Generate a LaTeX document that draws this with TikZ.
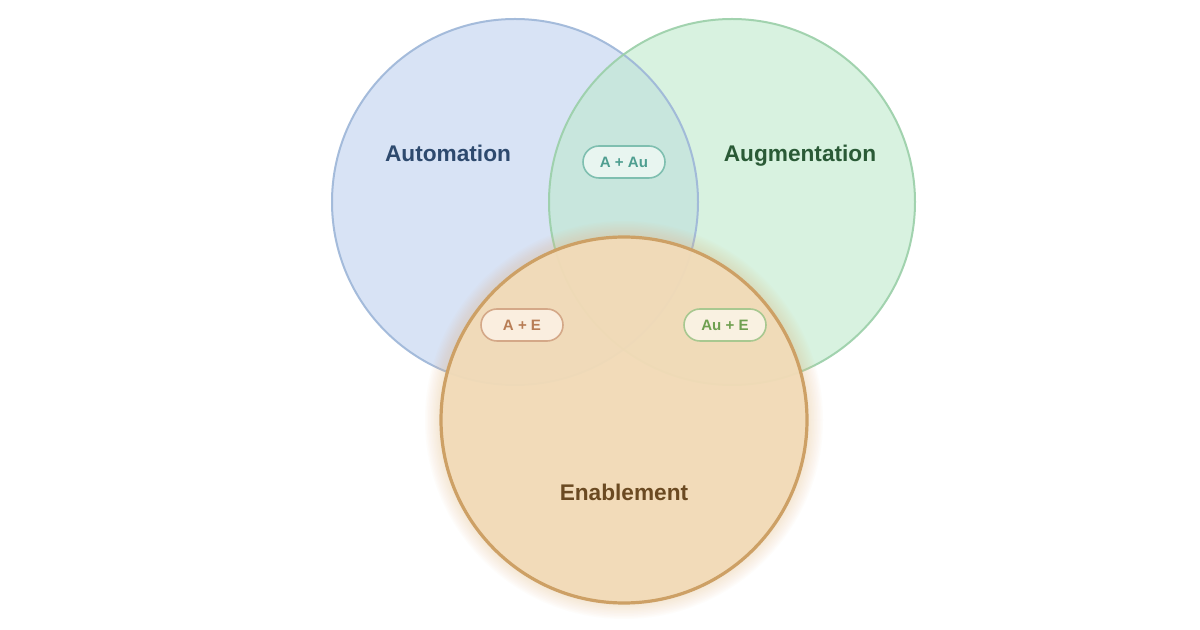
\documentclass[tikz,border=0pt]{standalone}
\usepackage{fontspec}
\setmainfont{Liberation Sans}
\usepackage{tikz}
\usetikzlibrary{positioning}

\definecolor{autofill}{HTML}{D8E3F5}
\definecolor{autoline}{HTML}{9DB6D8}
\definecolor{autotext}{HTML}{2E4A6E}
\definecolor{augfill}{HTML}{D8F2E0}
\definecolor{augline}{HTML}{9ACFA8}
\definecolor{augtext}{HTML}{2A5A36}
\definecolor{bothfill}{HTML}{C8E6DD}
\definecolor{enabfill}{HTML}{F2DBB8}
\definecolor{enabline}{HTML}{CDA065}
\definecolor{enabtext}{HTML}{6B4A22}
\definecolor{glow}{HTML}{EFB77A}
\definecolor{aaline}{HTML}{7FBFB0}
\definecolor{aafill}{HTML}{E8F5F0}
\definecolor{aatext}{HTML}{4E9E90}
\definecolor{aeline}{HTML}{D4A888}
\definecolor{aefill}{HTML}{FAEEDF}
\definecolor{aetext}{HTML}{B87D55}
\definecolor{geline}{HTML}{A8C890}
\definecolor{gefill}{HTML}{F9F1E1}
\definecolor{getext}{HTML}{6FA050}

\begin{document}
\begin{tikzpicture}[
    x=0.75pt,y=-0.75pt,
    setlabel/.style={font=\bfseries\fontsize{17}{20}\selectfont,inner sep=0pt,anchor=base},
    pill/.style={rectangle,rounded corners=12pt,line width=1.2pt,minimum width=61.5pt,minimum height=24pt,inner sep=0pt,font=\bfseries\fontsize{11.3}{13}\selectfont}
]
\useasboundingbox[fill=white] (0,0) rectangle (1200,630);

% the three sets
\coordinate (cauto) at (515,202);
\coordinate (caug) at (732,202);
\coordinate (cenab) at (624,420);

\fill[autofill] (cauto) circle (183);
\fill[augfill] (caug) circle (183);
\begin{scope}
  \clip (cauto) circle (183);
  \fill[bothfill] (caug) circle (183);
\end{scope}
\draw[autoline,line width=1.5pt,opacity=0.9] (cauto) circle (183);
\draw[augline,line width=1.5pt,opacity=0.9] (caug) circle (183);

% soft glow round the enablement set
\foreach \g in {1,...,10}
  \fill[glow,opacity=0.03] (cenab) circle (184+\g*1.5);

\fill[enabfill,fill opacity=0.95] (cenab) circle (183);
\draw[enabline,line width=2.4pt] (cenab) circle (183);

% set names
\node[setlabel,text=autotext] (automation) at (448,162) {Automation};
\node[setlabel,text=augtext] (augmentation) at (800,162) {Augmentation};
\node[setlabel,text=enabtext] (enablement) at (624,501) {Enablement};

% overlaps
\node[pill,draw=aaline,fill=aafill,text=aatext] (autoaug) at (624,162) {A + Au};
\node[pill,draw=aeline,fill=aefill,text=aetext] (autoenab) at (522,325) {A + E};
\node[pill,draw=geline,fill=gefill,text=getext] (augenab) at (725,325) {Au + E};

\end{tikzpicture}
\end{document}
